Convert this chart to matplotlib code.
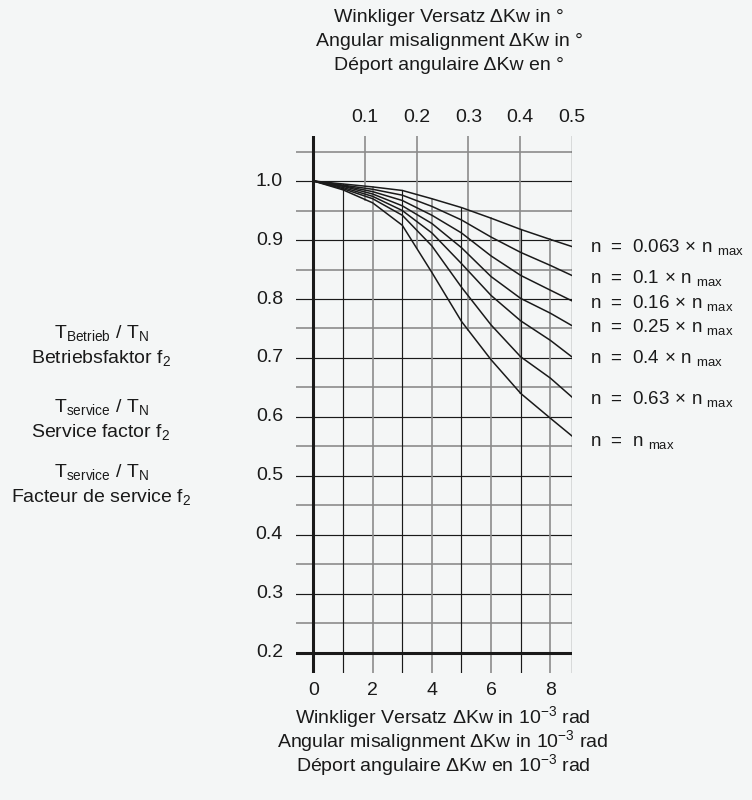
import numpy as np
import matplotlib as mpl
import matplotlib.pyplot as plt

mpl.rcParams['font.family'] = ['Liberation Sans', 'DejaVu Sans']
mpl.rcParams['mathtext.fontset'] = 'custom'
mpl.rcParams['mathtext.rm'] = 'Liberation Sans'
mpl.rcParams['mathtext.it'] = 'Liberation Sans:italic'
mpl.rcParams['mathtext.bf'] = 'Liberation Sans:bold'

BG = '#f4f6f6'
GREY = '#8c8c8c'
INK = '#1a1a1a'

# Winkliger Versatz in 10^-3 rad (0.5 Grad = 8.727e-3 rad)
x_mrad = [0, 1, 2, 3, 4, 5, 6, 7, 8, 8.727]
# Betriebsfaktor f2 je Drehzahl
f2_0063 = [1.000, 0.995, 0.990, 0.984, 0.970, 0.955, 0.937, 0.918, 0.901, 0.889]
f2_010 = [1.000, 0.993, 0.986, 0.976, 0.957, 0.934, 0.905, 0.879, 0.857, 0.840]
f2_016 = [1.000, 0.992, 0.982, 0.967, 0.942, 0.912, 0.873, 0.840, 0.815, 0.797]
f2_025 = [1.000, 0.991, 0.978, 0.958, 0.928, 0.887, 0.838, 0.801, 0.776, 0.755]
f2_040 = [1.000, 0.989, 0.974, 0.950, 0.912, 0.860, 0.806, 0.763, 0.730, 0.702]
f2_063 = [1.000, 0.987, 0.970, 0.942, 0.890, 0.820, 0.756, 0.702, 0.666, 0.634]
f2_100 = [1.000, 0.985, 0.963, 0.925, 0.845, 0.762, 0.697, 0.640, 0.598, 0.568]

curves = [f2_0063, f2_010, f2_016, f2_025, f2_040, f2_063, f2_100]
curve_labels = ['0.063', '0.1', '0.16', '0.25', '0.4', '0.63', None]

y_ticks = [0.2, 0.3, 0.4, 0.5, 0.6, 0.7, 0.8, 0.9, 1.0]
x_ticks = [0, 2, 4, 6, 8]
deg_ticks = [0.1, 0.2, 0.3, 0.4, 0.5]

X_LO, X_HI = -0.6, 0.5 * np.pi / 180 * 1000
Y_LO, Y_HI = 0.166, 1.077

W, H = 752, 800
fig = plt.figure(figsize=(W / 100, H / 100), dpi=100, facecolor=BG)
# Achsenrahmen in Pixeln: x=-0.6 -> 295.7 px, x=8.727 -> 571.8 px
ax = fig.add_axes([295.7 / W, 1 - 673 / H, (571.8 - 295.7) / W, (673 - 135.6) / H])
ax.set_facecolor(BG)
ax.set_xlim(X_LO, X_HI)
ax.set_ylim(Y_LO, Y_HI)
ax.axis('off')

top_curve = curves[0]
low_curve = curves[-1]

# horizontale Rasterlinien
for k in range(5, 22):
    v = k * 0.05
    if abs(v - 0.2) < 1e-6:
        continue
    if k % 2 == 0:
        ax.plot([X_LO, X_HI], [v, v], color=INK, lw=0.85, zorder=1)
    else:
        ax.plot([X_LO, X_HI], [v, v], color=GREY, lw=1.2, zorder=1)

# senkrechte Linien in 10^-3 rad: von unten bis zur oberen Kurve
for xm in range(1, 9):
    yt = np.interp(xm, x_mrad, top_curve)
    col, lw = (INK, 0.85) if xm % 2 == 1 else (GREY, 1.2)
    ax.plot([xm, xm], [Y_LO, yt], color=col, lw=lw, zorder=1)

# senkrechte Linien in Grad: von oben bis zur unteren Kurve
for d in deg_ticks[:-1]:
    xd = d * np.pi / 180 * 1000
    yb = np.interp(xd, x_mrad, low_curve)
    ax.plot([xd, xd], [yb, Y_HI], color=GREY, lw=1.2, zorder=1)

ax.plot([X_HI, X_HI], [Y_LO, Y_HI], color=INK, lw=0.9, zorder=2)
ax.plot([0, 0], [Y_LO, Y_HI], color=INK, lw=2.2, zorder=3)
ax.plot([X_LO, X_HI], [0.2, 0.2], color=INK, lw=2.2, zorder=3)

for c in curves:
    ax.plot(x_mrad, c, color=INK, lw=1.1, zorder=4)

# Beschriftung
FS = 14
for v in y_ticks:
    ax.text(-1.03, v, f'{v:.1f}', ha='right', va='center', fontsize=FS, color=INK)
for xv in x_ticks:
    ax.text(xv, 0.137, str(xv), ha='center', va='center', fontsize=FS, color=INK)
for d in deg_ticks:
    ax.text(d * np.pi / 180 * 1000, 1.108, f'{d:.1f}', ha='center', va='center',
            fontsize=FS, color=INK)

label_base = [0.880, 0.827, 0.785, 0.744, 0.692, 0.622, 0.551]
for lab, yb in zip(curve_labels, label_base):
    if lab is None:
        s = r'n  =  n $_{\mathrm{max}}$'
    else:
        s = 'n  =  ' + lab + r'$\,\times\,$n $_{\mathrm{max}}$'
    ax.text(9.34, yb, s, ha='left', va='baseline', fontsize=13.5, color=INK)

top_title = ['Winkliger Versatz \u0394Kw in \u00b0',
             'Angular misalignment \u0394Kw in \u00b0',
             'D\u00e9port angulaire \u0394Kw en \u00b0']
for i, s in enumerate(top_title):
    fig.text(449 / W, 1 - (17 + 24 * i) / H, s, ha='center', va='center', fontsize=FS, color=INK)

bottom_title = ['Winkliger Versatz \u0394Kw in 10$^{-3}$ rad',
                'Angular misalignment \u0394Kw in 10$^{-3}$ rad',
                'D\u00e9port angulaire \u0394Kw en 10$^{-3}$ rad']
for i, s in enumerate(bottom_title):
    fig.text(443 / W, 1 - (717 + 24 * i) / H, s, ha='center', va='center', fontsize=FS, color=INK)

left_lines = [(r'T$_{\mathrm{Betrieb}}$ / T$_{\mathrm{N}}$', 333),
              (r'Betriebsfaktor f$_{2}$', 358),
              (r'T$_{\mathrm{service}}$ / T$_{\mathrm{N}}$', 407),
              (r'Service factor f$_{2}$', 432),
              (r'T$_{\mathrm{service}}$ / T$_{\mathrm{N}}$', 472),
              (r'Facteur de service f$_{2}$', 497)]
for s, yp in left_lines:
    fig.text(101 / W, 1 - yp / H, s, ha='center', va='center', fontsize=FS, color=INK)

fig.savefig('out.png', dpi=100, facecolor=BG)
